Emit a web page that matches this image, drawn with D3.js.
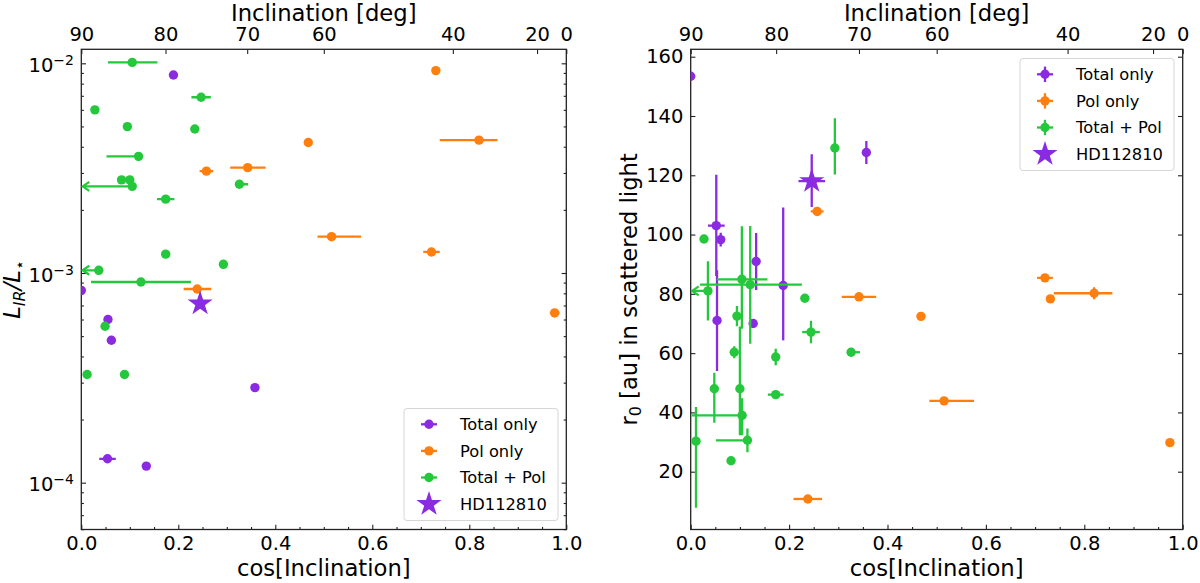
<!DOCTYPE html>
<html>
<head>
<meta charset="utf-8">
<script src="https://cdn.jsdelivr.net/npm/d3@7"></script>
<style>
body { margin: 0; background: #fff; }
svg text { font-family: "DejaVu Sans", sans-serif; fill: #000; }
</style>
</head>
<body>
<svg id="chart" width="1200" height="583"></svg>
<script>

//*************************1. Data

//------------------------ axis ticks
const incDeg = [90, 80, 70, 60, 40, 20, 0]
const cosMajor = [0, 0.2, 0.4, 0.6, 0.8, 1.0]
const lirMajor = [1e-4, 1e-3, 1e-2]
const r0Major = [20, 40, 60, 80, 100, 120, 140, 160]
const legendLabels = ["Total only", "Pol only", "Total + Pol", "HD112810"]

//------------------------ left panel: L_IR/L* vs cos(i)
const totL_cos   = [0.0, 0.055, 0.062, 0.190, 0.358, 0.054, 0.134]
const totL_cosLo = [0, 0, 0, 0, 0, 0.017, 0]
const totL_cosHi = [0, 0, 0, 0, 0, 0.017, 0]
const totL_lir   = [8.26e-4, 6.0e-4, 4.78e-4, 8.8e-3, 2.84e-4, 1.30e-4, 1.20e-4]

const polL_cos   = [0.731, 0.820, 0.468, 0.343, 0.258, 0.516, 0.722, 0.239, 0.976]
const polL_cosLo = [0, 0.081, 0, 0.036, 0.014, 0.029, 0.017, 0.028, 0.010]
const polL_cosHi = [0, 0.038, 0, 0.037, 0.014, 0.061, 0.017, 0.029, 0.010]
const polL_lir   = [9.23e-3, 4.30e-3, 4.19e-3, 3.18e-3, 3.06e-3, 1.49e-3, 1.26e-3, 8.39e-4, 6.45e-4]

const bothL_cos   = [0.105, 0.028, 0.247, 0.095, 0.234, 0.118, 0.083, 0.100, 0.105, 0.326, 0.174, 0.174, 0.293, 0.036, 0.123, 0.049, 0.012, 0.089]
const bothL_cosLo = [0.050, 0, 0.020, 0, 0, 0.066, 0, 0, 0.102, 0, 0.018, 0, 0, 0.033, 0.103, 0.005, 0, 0]
const bothL_cosHi = [0.052, 0, 0.020, 0, 0, 0, 0, 0, 0, 0.018, 0.018, 0, 0, 0, 0.103, 0.005, 0, 0]
const bothL_upper = [0, 0, 0, 0, 0, 0, 0, 0, 1, 0, 0, 0, 0, 1, 0, 0, 0, 0]
const bothL_lir   = [1.01e-2, 6.0e-3, 6.89e-3, 4.99e-3, 4.86e-3, 3.60e-3, 2.78e-3, 2.78e-3, 2.59e-3, 2.65e-3, 2.25e-3, 1.23e-3, 1.10e-3, 1.03e-3, 9.06e-4, 5.57e-4, 3.28e-4, 3.28e-4]

const hdL_cos = [0.245]
const hdL_lir = [7.14e-4]

//------------------------ right panel: r0 vs cos(i)
const totR_cos   = [0.0, 0.357, 0.052, 0.061, 0.133, 0.188, 0.127, 0.0535]
const totR_cosLo = [0, 0, 0.017, 0, 0, 0, 0, 0]
const totR_cosHi = [0, 0, 0.017, 0, 0, 0, 0, 0]
const totR_r0    = [153.4, 127.7, 103.0, 98.3, 90.9, 82.8, 70.0, 71.0]
const totR_r0Lo  = [0, 3.9, 17.0, 2.3, 9.6, 18.5, 0, 17.0]
const totR_r0Hi  = [0, 3.9, 17.2, 2.3, 9.6, 26.3, 0, 17.0]

const polR_cos   = [0.257, 0.720, 0.342, 0.731, 0.820, 0.468, 0.515, 0.238, 0.974]
const polR_cosLo = [0.013, 0.016, 0.035, 0, 0.082, 0, 0.030, 0.029, 0.008]
const polR_cosHi = [0.013, 0.016, 0.035, 0, 0.037, 0, 0.061, 0.029, 0.008]
const polR_r0    = [107.8, 85.4, 79.0, 78.3, 80.2, 72.4, 43.9, 10.8, 29.8]
const polR_r0Lo  = [0, 0, 0, 0, 2.0, 0, 0, 0, 0]
const polR_r0Hi  = [0, 0, 0, 0, 2.0, 0, 0, 0, 0]

const bothR_cos   = [0.035, 0.121, 0.104, 0.232, 0.094, 0.2445, 0.0885, 0.1728, 0.326, 0.048, 0.100, 0.1728, 0.1045, 0.0108, 0.1153, 0.082, 0.027, 0.293]
const bothR_cosLo = [0.032, 0.102, 0.051, 0, 0, 0.018, 0, 0, 0, 0, 0, 0.016, 0.1025, 0, 0.064, 0, 0, 0]
const bothR_cosHi = [0, 0.105, 0.052, 0, 0, 0.018, 0, 0, 0.018, 0, 0, 0.016, 0, 0, 0, 0, 0, 0]
const bothR_upper = [1, 0, 0, 0, 0, 0, 0, 0, 0, 0, 0, 0, 0, 0, 0, 0, 0, 0]
const bothR_r0    = [81.0, 83.1, 84.9, 78.5, 72.5, 67.1, 60.3, 58.7, 60.3, 48.0, 48.0, 46.0, 39.0, 30.3, 30.6, 23.7, 98.5, 129.2]
const bothR_r0Lo  = [10.0, 19.9, 16.7, 0, 3.4, 3.8, 2.0, 2.8, 0, 11.5, 15.7, 1.5, 6.7, 22.5, 4.0, 0, 0, 8.9]
const bothR_r0Hi  = [10.0, 19.8, 17.9, 0, 3.4, 3.8, 2.0, 2.8, 0, 5.4, 21.0, 1.5, 5.8, 11.5, 4.0, 0, 0, 10.0]

const hdR_cos   = [0.246]
const hdR_cosLo = [0.027]
const hdR_cosHi = [0.027]
const hdR_r0    = [118.0]
const hdR_r0Lo  = [8.7]
const hdR_r0Hi  = [9.1]

//*************************2. Dimensions and styles

const dims = {
    top: 49.3,
    bottom: 529.5,
    left: {x0: 81.3, x1: 566.3},
    right: {x0: 690.7, x1: 1182.7}
}
const colors = {tot: "#8a2be2", pol: "#ff7f0e", both: "#25c83c"}
const tickFont = 19.5
const labelFont = 22.7
const legendFont = 16.3
const frameColor = "#222"
const dotR = 4.7

const svg = d3.select("#chart")

//------------------------ build point lists from the arrays
const pts = (cos, val, o = {}) => cos.map((c, i) => ({
    x: c,
    y: val[i],
    xLo: o.xLo ? o.xLo[i] : 0,
    xHi: o.xHi ? o.xHi[i] : 0,
    yLo: o.yLo ? o.yLo[i] : 0,
    yHi: o.yHi ? o.yHi[i] : 0,
    upper: o.upper ? o.upper[i] : 0
}))

const leftSeries = [
    {color: colors.tot, points: pts(totL_cos, totL_lir, {xLo: totL_cosLo, xHi: totL_cosHi})},
    {color: colors.pol, points: pts(polL_cos, polL_lir, {xLo: polL_cosLo, xHi: polL_cosHi})},
    {color: colors.both, points: pts(bothL_cos, bothL_lir, {xLo: bothL_cosLo, xHi: bothL_cosHi, upper: bothL_upper})},
    {color: colors.tot, star: true, points: pts(hdL_cos, hdL_lir)}
]
const rightSeries = [
    {color: colors.tot, points: pts(totR_cos, totR_r0, {xLo: totR_cosLo, xHi: totR_cosHi, yLo: totR_r0Lo, yHi: totR_r0Hi})},
    {color: colors.pol, points: pts(polR_cos, polR_r0, {xLo: polR_cosLo, xHi: polR_cosHi, yLo: polR_r0Lo, yHi: polR_r0Hi})},
    {color: colors.both, points: pts(bothR_cos, bothR_r0, {xLo: bothR_cosLo, xHi: bothR_cosHi, yLo: bothR_r0Lo, yHi: bothR_r0Hi, upper: bothR_upper})},
    {color: colors.tot, star: true, points: pts(hdR_cos, hdR_r0, {xLo: hdR_cosLo, xHi: hdR_cosHi, yLo: hdR_r0Lo, yHi: hdR_r0Hi})}
]

//*************************3. Scales

const xLeft = d3.scaleLinear().domain([0, 1]).range([dims.left.x0, dims.left.x1])
const yLeft = d3.scaleLog().domain([5.98e-5, 0.011664]).range([dims.bottom, dims.top])
const xRight = d3.scaleLinear().domain([0, 1]).range([dims.right.x0, dims.right.x1])
const yRight = d3.scaleLinear().domain([0.5, 162.5]).range([dims.bottom, dims.top])

const cosMinor = d3.range(21).map(i => i / 20).filter(v => Math.abs(v * 5 - Math.round(v * 5)) > 1e-6)
const lirMinor = []
for (let k = -5; k <= -2; k++) {
    for (let m = 2; m <= 9; m++) {
        const v = m * Math.pow(10, k)
        if (v > yLeft.domain()[0] && v < yLeft.domain()[1]) lirMinor.push(v)
    }
}

const starSymbol = d3.symbol().type(d3.symbolStar).size(195)

//*************************4. Axes helpers

function styleTicks(g) {
    g.select(".domain").remove()
    g.selectAll(".tick line").attr("stroke", frameColor).attr("stroke-width", 1.1)
    g.selectAll(".tick text").style("font-size", tickFont + "px")
}

function drawFrame(x, y, opts) {
    const g = svg.append("g")
    const [x0, x1] = x.range()

    //---------- bottom
    g.append("g")
        .attr("transform", `translate(0,${dims.bottom})`)
        .call(d3.axisBottom(x).tickValues(cosMajor).tickSizeInner(-4.7).tickSizeOuter(0).tickPadding(7).tickFormat(d3.format(".1f")))
        .call(styleTicks)
    g.append("g")
        .attr("transform", `translate(0,${dims.bottom})`)
        .call(d3.axisBottom(x).tickValues(cosMinor).tickSizeInner(-2.6).tickSizeOuter(0).tickFormat(""))
        .call(styleTicks)

    //---------- top: inclination in degrees
    g.append("g")
        .attr("transform", `translate(0,${dims.top})`)
        .call(d3.axisTop(x)
            .tickValues(incDeg.map(d => Math.cos(d * Math.PI / 180)))
            .tickSizeInner(-4.7).tickSizeOuter(0).tickPadding(8)
            .tickFormat((d, i) => incDeg[i]))
        .call(styleTicks)

    //---------- left and right
    const left = g.append("g")
        .attr("transform", `translate(${x0},0)`)
        .call(d3.axisLeft(y).tickValues(opts.major).tickSizeInner(-4.7).tickSizeOuter(0).tickPadding(7.3).tickFormat(opts.format || d3.format("d")))
        .call(styleTicks)
    g.append("g")
        .attr("transform", `translate(${x1},0)`)
        .call(d3.axisRight(y).tickValues(opts.major).tickSizeInner(-4.7).tickSizeOuter(0).tickFormat(""))
        .call(styleTicks)
    if (opts.minor) {
        g.append("g")
            .attr("transform", `translate(${x0},0)`)
            .call(d3.axisLeft(y).tickValues(opts.minor).tickSizeInner(-2.6).tickSizeOuter(0).tickFormat(""))
            .call(styleTicks)
        g.append("g")
            .attr("transform", `translate(${x1},0)`)
            .call(d3.axisRight(y).tickValues(opts.minor).tickSizeInner(-2.6).tickSizeOuter(0).tickFormat(""))
            .call(styleTicks)
    }

    //---------- frame
    g.append("rect")
        .attr("x", x0)
        .attr("y", dims.top)
        .attr("width", x1 - x0)
        .attr("height", dims.bottom - dims.top)
        .attr("fill", "none")
        .attr("stroke", frameColor)
        .attr("stroke-width", 1.3)

    //---------- axis titles
    const cx = (x0 + x1) / 2
    g.append("text")
        .attr("x", cx).attr("y", 21)
        .attr("text-anchor", "middle")
        .style("font-size", labelFont + "px")
        .text("Inclination [deg]")
    g.append("text")
        .attr("x", cx).attr("y", 576)
        .attr("text-anchor", "middle")
        .style("font-size", labelFont + "px")
        .text("cos[Inclination]")

    return left
}

//*************************5. Marks

function drawSeries(x, y, series, clipId) {
    const g = svg.append("g").attr("clip-path", `url(#${clipId})`)
    series.forEach(s => {
        const sg = g.append("g")
        const withX = s.points.filter(d => d.xLo > 0 || d.xHi > 0)
        const withY = s.points.filter(d => d.yLo > 0 || d.yHi > 0)

        sg.selectAll("line.xerr")
            .data(withX)
            .join("line")
            .attr("class", "xerr")
            .attr("x1", d => x(d.x - d.xLo))
            .attr("x2", d => x(d.x + d.xHi))
            .attr("y1", d => y(d.y))
            .attr("y2", d => y(d.y))
            .attr("stroke", s.color)
            .attr("stroke-width", 2.3)

        sg.selectAll("line.yerr")
            .data(withY)
            .join("line")
            .attr("class", "yerr")
            .attr("x1", d => x(d.x))
            .attr("x2", d => x(d.x))
            .attr("y1", d => y(d.y - d.yLo))
            .attr("y2", d => y(d.y + d.yHi))
            .attr("stroke", s.color)
            .attr("stroke-width", 2.3)

        //upper limits in cos(i): arrow head at the left end
        sg.selectAll("path.arrow")
            .data(s.points.filter(d => d.upper))
            .join("path")
            .attr("class", "arrow")
            .attr("d", d => {
                const ax = x(d.x - d.xLo), ay = y(d.y)
                return `M${ax + 6.5},${ay - 4.5}L${ax},${ay}L${ax + 6.5},${ay + 4.5}`
            })
            .attr("fill", "none")
            .attr("stroke", s.color)
            .attr("stroke-width", 2.3)

        if (s.star) {
            sg.selectAll("path.star")
                .data(s.points)
                .join("path")
                .attr("class", "star")
                .attr("d", starSymbol)
                .attr("transform", d => `translate(${x(d.x)},${y(d.y)})`)
                .attr("fill", s.color)
        } else {
            sg.selectAll("circle")
                .data(s.points)
                .join("circle")
                .attr("cx", d => x(d.x))
                .attr("cy", d => y(d.y))
                .attr("r", dotR)
                .attr("fill", s.color)
        }
    })
}

function addClip(id, x, y) {
    svg.append("clipPath").attr("id", id)
        .append("rect")
        .attr("x", x.range()[0])
        .attr("y", dims.top)
        .attr("width", x.range()[1] - x.range()[0])
        .attr("height", dims.bottom - dims.top)
}

//*************************6. Legend

function drawLegend(bx, by, withYerr) {
    const g = svg.append("g").attr("transform", `translate(${bx},${by})`)
    g.append("rect")
        .attr("width", 154)
        .attr("height", 112)
        .attr("rx", 3)
        .attr("fill", "white")
        .attr("fill-opacity", 0.8)
        .attr("stroke", "#d6d6d6")
        .attr("stroke-width", 1)
    const rowColors = [colors.tot, colors.pol, colors.both, colors.tot]
    legendLabels.forEach((lab, i) => {
        const cy = 15.8 + i * 26.6
        const c = rowColors[i]
        if (i < 3) {
            g.append("line").attr("x1", 17).attr("x2", 33).attr("y1", cy).attr("y2", cy)
                .attr("stroke", c).attr("stroke-width", 2.3)
            if (withYerr) {
                g.append("line").attr("x1", 25).attr("x2", 25).attr("y1", cy - 7.7).attr("y2", cy + 7.7)
                    .attr("stroke", c).attr("stroke-width", 2.3)
            }
            g.append("circle").attr("cx", 25).attr("cy", cy).attr("r", dotR).attr("fill", c)
        } else {
            g.append("path").attr("d", starSymbol).attr("transform", `translate(25,${cy})`).attr("fill", c)
        }
        g.append("text")
            .attr("x", 56)
            .attr("y", cy)
            .attr("dy", "0.36em")
            .style("font-size", legendFont + "px")
            .text(lab)
    })
}

//*************************7. Draw

//------------------------ left panel
addClip("clipL", xLeft, yLeft)
const leftAxis = drawFrame(xLeft, yLeft, {major: lirMajor, minor: lirMinor, format: () => ""})
leftAxis.selectAll(".tick text")
    .attr("dy", "8.3px")
    .each(function (d) {
        const t = d3.select(this)
        t.text("10")
        t.append("tspan")
            .attr("dy", "-7px")
            .style("font-size", "14px")
            .text("\u2212" + Math.round(-Math.log10(d)))
    })
drawSeries(xLeft, yLeft, leftSeries, "clipL")
drawLegend(404, 408.5, false)

const yLabL = svg.append("text")
    .attr("transform", `translate(20,289.4) rotate(-90)`)
    .attr("text-anchor", "middle")
    .style("font-size", labelFont + "px")
    .style("font-style", "italic")
yLabL.append("tspan").text("L")
yLabL.append("tspan").attr("dy", "4.5px").style("font-size", "16px").text("IR")
yLabL.append("tspan").attr("dy", "-4.5px").text("/L")
yLabL.append("tspan").attr("dy", "4.5px").style("font-size", "16px").style("font-style", "normal").text("\u22c6")

//------------------------ right panel
addClip("clipR", xRight, yRight)
drawFrame(xRight, yRight, {major: r0Major})
drawSeries(xRight, yRight, rightSeries, "clipR")
drawLegend(1020, 58.5, true)

const yLabR = svg.append("text")
    .attr("transform", `translate(636.5,289.4) rotate(-90)`)
    .attr("text-anchor", "middle")
    .style("font-size", labelFont + "px")
yLabR.append("tspan").text("r")
yLabR.append("tspan").attr("dy", "4.5px").style("font-size", "16px").text("0")
yLabR.append("tspan").attr("dy", "-4.5px").text(" [au] in scattered light")

</script>
</body>
</html>
